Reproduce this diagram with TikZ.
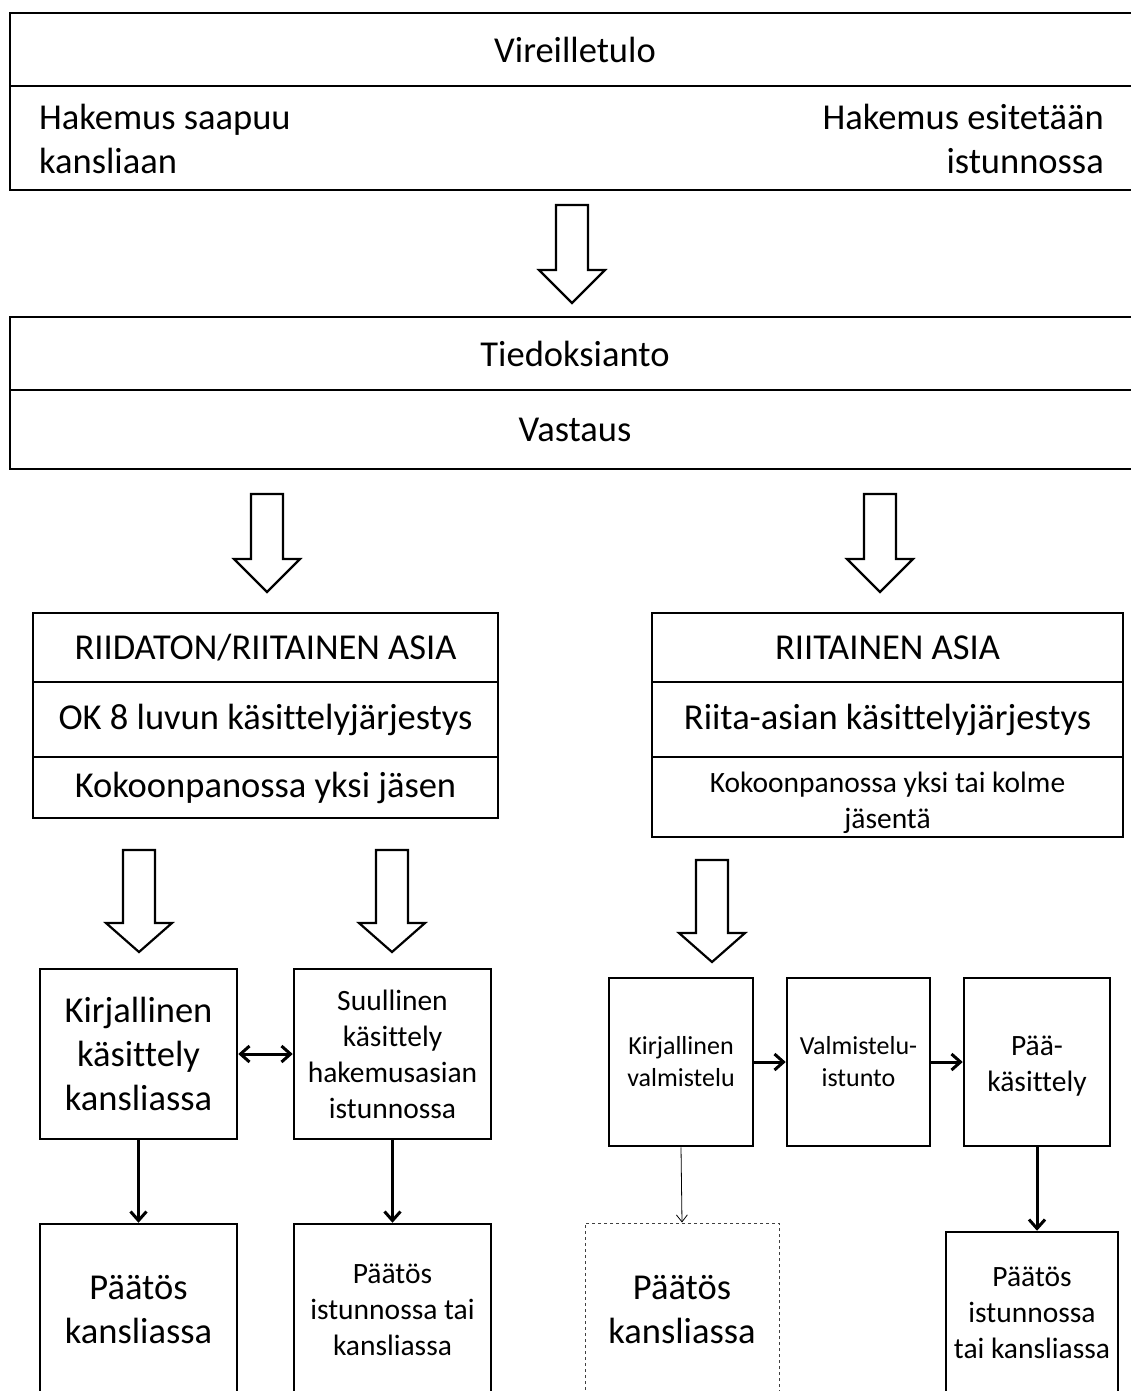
\documentclass[tikz,border=0pt]{standalone}
\usepackage{fontspec}
\setmainfont{Carlito}[Ligatures={NoCommon}]
\usetikzlibrary{arrows.meta}
\tikzset{
  box/.style={draw, line width=2.5pt, rectangle, inner sep=0pt, align=center, fill=white},
  big/.style={font=\fontsize{36.5}{44}\selectfont},
  mid/.style={font=\fontsize{29.5}{36}\selectfont},
  sml/.style={font=\fontsize{26}{32}\selectfont},
  conn/.style={line width=3pt, arrows={-Straight Barb[length=9pt,width=16pt]}},
  dconn/.style={line width=3pt, arrows={Straight Barb[length=9pt,width=16pt]-Straight Barb[length=9pt,width=16pt]}},
  thinconn/.style={line width=0.8pt, arrows={-Straight Barb[length=7pt,width=11pt]}},
  pics/barrow/.style 2 args={code={
    \draw[line width=2.2pt, fill=white, line join=miter]
      (-16,0) -- (16,0) -- (16,#1) -- (33,#1) -- (0,#2) -- (-33,#1) -- (-16,#1) -- cycle;}}
}
\begin{document}
\begin{tikzpicture}[x=1pt,y=-1pt]
\useasboundingbox (0,0) rectangle (1131,1391);
\clip (0,0) rectangle (1131,1391);

% Vireilletulo
\node[box,big,minimum width=1130pt,minimum height=73pt] (vir) at (575,49.5) {Vireilletulo};
\node[box,minimum width=1130pt,minimum height=104pt] (hak) at (575,138) {};
\node[big,align=left,anchor=west,inner sep=0pt] (hak1) at (39,139) {Hakemus saapuu\\kansliaan};
\node[big,align=right,anchor=east,inner sep=0pt] (hak2) at (1104,139) {Hakemus esitetään\\istunnossa};

\pic at (572,205) {barrow={65}{98}};

% Tiedoksianto / Vastaus
\node[box,big,minimum width=1130pt,minimum height=73pt] (tied) at (575,353.5) {Tiedoksianto};
\node[box,big,minimum width=1130pt,minimum height=79pt] (vas) at (575,429.5) {Vastaus};

\pic at (267,494) {barrow={65}{98}};
\pic at (880,494) {barrow={65}{98}};

% left group
\node[box,big,minimum width=465pt,minimum height=69pt] (r1) at (265.5,647.5) {RIIDATON/RIITAINEN ASIA};
\node[box,big,minimum width=465pt,minimum height=75pt] (r2) at (265.5,719.5) {OK 8 luvun käsittelyjärjestys};
\node[box,big,minimum width=465pt,minimum height=61pt] (r3) at (265.5,787.5) {Kokoonpanossa yksi jäsen};

% right group
\node[box,big,minimum width=471pt,minimum height=69pt] (q1) at (887.5,647.5) {RIITAINEN ASIA};
\node[box,big,minimum width=471pt,minimum height=75pt] (q2) at (887.5,719.5) {Riita-asian käsittelyjärjestys};
\node[box,minimum width=471pt,minimum height=80pt] (q3) at (887.5,797) {};
\node[mid,align=center,inner sep=0pt] (q3t) at (887.5,803) {Kokoonpanossa yksi tai kolme\\jäsentä};

\pic at (139,850) {barrow={73}{102}};
\pic at (392,850) {barrow={73}{102}};
\pic at (712,860) {barrow={73}{102}};

% lower left
\node[box,big,minimum width=197pt,minimum height=170pt] (k1) at (138.5,1054) {Kirjallinen\\käsittely\\kansliassa};
\node[box,mid,minimum width=197pt,minimum height=170pt] (s1) at (392.5,1054) {Suullinen\\käsittely\\hakemusasian\\istunnossa};
\node[box,big,minimum width=197pt,minimum height=172pt] (p1) at (138.5,1310) {Päätös\\kansliassa};
\node[box,mid,minimum width=197pt,minimum height=172pt] (p2) at (392.5,1310) {Päätös\\istunnossa tai\\kansliassa};

\draw[dconn] (k1.east) -- (s1.west);
\draw[conn] (k1.south) -- (p1.north);
\draw[conn] (s1.south) -- (p2.north);

% lower right
\node[box,sml,minimum width=144pt,minimum height=168pt] (kv) at (681,1062) {Kirjallinen\\valmistelu};
\node[box,sml,minimum width=143pt,minimum height=168pt] (vi) at (858.5,1062) {Valmistelu-\\istunto};
\node[box,minimum width=146pt,minimum height=168pt] (pk) at (1037,1062) {};
\node[mid,align=center,inner sep=0pt] (pkt) at (1037,1066) {Pää-\\käsittely};
\node[draw=black!75,dashed,line width=1pt,rectangle,inner sep=0pt,align=center,big,minimum width=194pt,minimum height=174pt] (pd) at (682,1310) {Päätös\\kansliassa};
\node[box,minimum width=172pt,minimum height=168pt] (pr) at (1032,1316) {};
\node[mid,align=center,inner sep=0pt] (prt) at (1032,1313) {Päätös\\istunnossa\\tai kansliassa};

\draw[conn] (kv.east) -- (vi.west);
\draw[conn] (vi.east) -- (pk.west);
\draw[thinconn] (kv.south) -- (pd.north);
\draw[conn] (pk.south) -- (pk.south |- pr.north);
\end{tikzpicture}
\end{document}
